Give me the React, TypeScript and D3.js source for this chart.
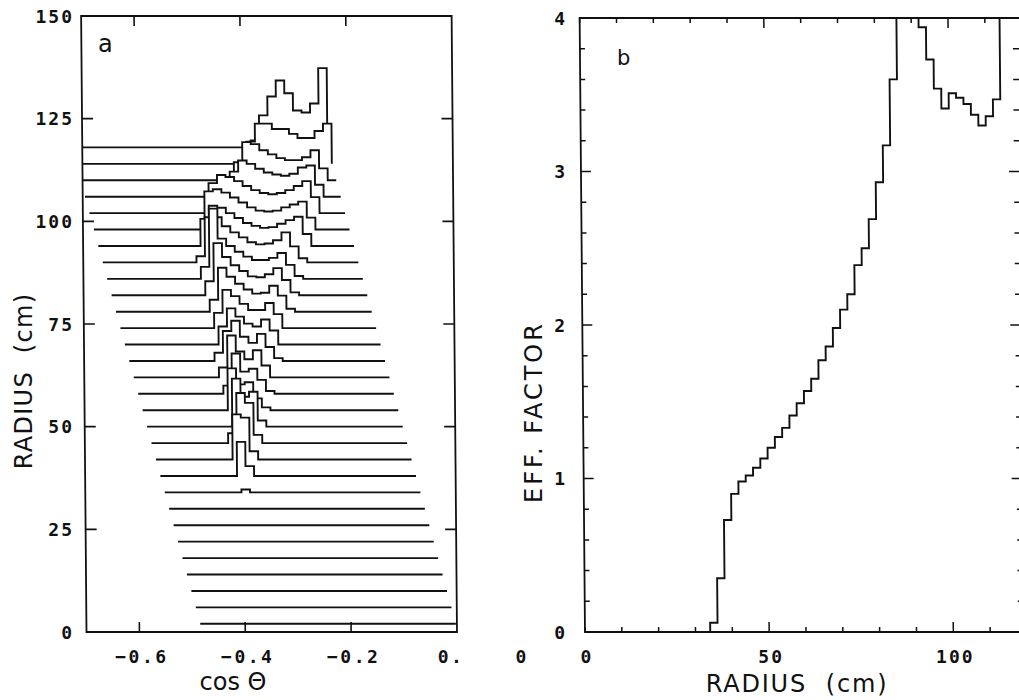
import React from "react";
import * as d3 from "d3";

// ---------- Panel a : cos(theta) distributions stacked by radius ----------
const radii = [2, 6, 10, 14, 18, 22, 26, 30, 34, 38, 42, 46, 50, 54, 58, 62, 66, 70, 74, 78, 82, 86, 90, 94, 98, 102, 106, 110, 114, 118];
const firstBin = [0, 0, 0, 0, 0, 0, 0, 0, 9, 9, 9, 9, 10, 10, 10, 10, 10, 11, 11, 11, 11, 11, 11, 12, 13, 14, 17, 18, 20, 21];
const binCounts: number[][] = [
  [], [], [], [], [], [], [], [],
  [0.7],
  [8.3, 2.4],
  [11.0, 10.2, 2.0],
  [2.4, 12.2, 9.8, 2.0],
  [11.7, 7.3, 8.5, 1.5],
  [10.2, 6.3, 6.8, 2.9, 0.7],
  [2.0, 9.8, 5.4, 6.1, 3.4, 0.7],
  [2.4, 10.2, 6.3, 4.4, 6.6, 2.9],
  [2.0, 7.3, 9.8, 5.9, 4.4, 6.6, 3.4, 0.7],
  [4.4, 8.8, 6.8, 5.1, 4.4, 6.1, 3.4],
  [3.7, 9.3, 7.8, 5.9, 4.4, 4.4, 6.1, 3.4],
  [2.9, 10.7, 8.5, 6.8, 5.4, 4.4, 4.6, 6.3, 3.9, 0.7],
  [3.4, 12.7, 9.3, 7.3, 5.9, 4.6, 4.4, 5.1, 6.6, 3.7, 0.7],
  [2.9, 17.1, 9.8, 8.0, 6.6, 5.4, 4.6, 4.6, 5.1, 6.3, 3.4, 0.7],
  [1.5, 11.0, 11.0, 8.8, 7.3, 6.1, 4.9, 4.4, 4.6, 5.4, 7.3, 3.9, 1.0],
  [6.6, 9.8, 9.3, 8.0, 6.8, 5.6, 4.9, 4.4, 4.6, 5.4, 6.3, 7.1, 2.9],
  [9.3, 9.8, 9.0, 7.8, 6.6, 5.4, 4.6, 4.4, 4.6, 5.4, 6.1, 6.8, 2.9],
  [7.3, 9.3, 8.8, 7.8, 6.6, 5.6, 4.9, 4.6, 4.9, 5.6, 6.6, 7.8, 3.9],
  [6.1, 8.8, 8.0, 6.8, 5.9, 5.4, 5.1, 5.6, 7.1, 7.6, 2.9],
  [4.4, 9.3, 8.8, 7.3, 6.3, 5.4, 4.9, 4.9, 5.6, 7.3, 2.9],
  [5.4, 9.8, 9.8, 8.5, 8.5, 7.3, 6.3, 6.3, 8.0, 9.8],
  [1.7, 7.8, 12.4, 16.3, 13.2, 9.0, 8.5, 10.7, 19.3],
];
const cosStart = -0.485;
const binWidth = 0.0161;
const binsPerTrace = 30;
const depthShift = 0.0081;
const aYTicks = [0, 25, 50, 75, 100, 125, 150];
const aXTicks = [-0.6, -0.4, -0.2];
const aXTickLabels = ["\u22120.6", "\u22120.4", "\u22120.2"];

// ---------- Panel b : efficiency factor vs radius (2 cm bins) ----------
const effBinWidth = 2;
const effFactor = [
  0, 0, 0, 0, 0, 0, 0, 0, 0, 0, 0, 0, 0, 0, 0, 0, 0,
  0.06, 0.35, 0.73, 0.90, 0.98, 1.02, 1.07, 1.13, 1.20, 1.27, 1.33, 1.41, 1.49,
  1.57, 1.65, 1.77, 1.86, 1.98, 2.10, 2.20, 2.39, 2.50, 2.69, 2.93, 3.17, 3.60,
  4.5, 4.8, 4.4,
  3.94, 3.73, 3.54, 3.41, 3.51, 3.48, 3.44, 3.37, 3.30, 3.36, 3.47,
  4.6, 5.0, 5.0,
];
const bYTicks = [0, 1, 2, 3, 4];
const bXLabels = [0, 50, 100];

const numFont = "'DejaVu Sans Mono', monospace";
const txtFont = "'DejaVu Sans', sans-serif";

export default function App() {
  // panel a geometry
  const aL = 86.5, aR = 457, aT = 16, aB = 632;
  const xA = d3.scaleLinear().domain([-0.7, 0]).range([aL, aR]);
  const yA = d3.scaleLinear().domain([0, 150]).range([aB, aT]);
  // panel b geometry
  const bL = 585, bR = 1027, bT = 18, bB = 632;
  const xB = d3.scaleLinear().domain([0, 120]).range([bL, bR]);
  const yB = d3.scaleLinear().domain([0, 4]).range([bB, bT]);

  const skew = `translate(0,${aB}) skewX(0.5) translate(0,${-aB})`;

  const lineA = d3
    .line<[number, number]>()
    .x((d) => xA(d[0]))
    .y((d) => yA(d[1]))
    .curve(d3.curveStepAfter);

  const traces = radii.map((r, i) => {
    const x0 = cosStart - i * depthShift;
    const counts = new Array(binsPerTrace).fill(0);
    binCounts[i].forEach((v, j) => {
      counts[firstBin[i] + j] = v;
    });
    const pts: [number, number][] = counts.map((v, k) => [x0 + k * binWidth, r + v]);
    pts.push([x0 + binsPerTrace * binWidth, r]);
    return lineA(pts) as string;
  });

  const lineB = d3
    .line<[number, number]>()
    .x((d) => xB(d[0]))
    .y((d) => yB(d[1]))
    .curve(d3.curveStepAfter);
  const effPts: [number, number][] = effFactor.map((v, k) => [k * effBinWidth, v]);
  effPts.push([effFactor.length * effBinWidth, effFactor[effFactor.length - 1]]);
  const effPath = lineB(effPts) as string;

  const bMinorY = yB.ticks(20);
  const bMinorX = d3.range(0, 121, 10);

  const stroke = "#111";

  return (
    <svg
      width={1019}
      height={700}
      style={{ position: "absolute", left: 0, top: 0, display: "block", background: "#fff" }}
    >
      <defs>
        <clipPath id="clipA">
          <rect x={aL} y={aT} width={aR - aL} height={aB - aT} />
        </clipPath>
        <clipPath id="clipB">
          <rect x={bL} y={bT} width={bR - bL} height={bB - bT} />
        </clipPath>
      </defs>

      {/* ===== Panel a ===== */}
      <g transform={skew}>
        <g clipPath="url(#clipA)">
          {traces
            .map((d, i) => ({ d, i }))
            .reverse()
            .map(({ d, i }) => (
              <g key={i}>
                <path d={d + "Z"} fill="#fff" stroke="none" />
                <path d={d} fill="none" stroke={stroke} strokeWidth={1.9} />
              </g>
            ))}
        </g>
        <rect x={aL} y={aT} width={aR - aL} height={aB - aT} fill="none" stroke={stroke} strokeWidth={1.8} />
        {aYTicks.map((t) => (
          <g key={"ay" + t}>
            <line x1={aL} x2={aL + 11} y1={yA(t)} y2={yA(t)} stroke={stroke} strokeWidth={1.6} />
            <line x1={aR} x2={aR - 11} y1={yA(t)} y2={yA(t)} stroke={stroke} strokeWidth={1.6} />
          </g>
        ))}
        {aXTicks.map((t) => (
          <g key={"ax" + t}>
            <line x1={xA(t)} x2={xA(t)} y1={aB} y2={aB - 10} stroke={stroke} strokeWidth={1.6} />
            <line x1={xA(t)} x2={xA(t)} y1={aT} y2={aT + 10} stroke={stroke} strokeWidth={1.6} />
          </g>
        ))}
      </g>
      {aYTicks.map((t) => (
        <text
          key={"ayl" + t}
          x={74}
          y={yA(t) + 6.5}
          textAnchor="end"
          fontFamily={numFont}
          fontWeight="bold"
          fontSize={18}
          letterSpacing={2}
          fill={stroke}
        >
          {t}
        </text>
      ))}
      {aXTicks.map((t, i) => (
        <text
          key={"axl" + t}
          x={xA(t) + 2.5}
          y={663}
          textAnchor="middle"
          fontFamily={numFont}
          fontWeight="bold"
          fontSize={18}
          letterSpacing={2.5}
          fill={stroke}
        >
          {aXTickLabels[i]}
        </text>
      ))}
      <text x={xA(0) - 6} y={663} textAnchor="middle" fontFamily={numFont} fontWeight="bold" fontSize={18} letterSpacing={2.5} fill={stroke}>
        0.
      </text>
      <text x={233} y={690} textAnchor="middle" fontFamily={txtFont} fontSize={24} fill={stroke}>
        cos Θ
      </text>
      <text
        transform="translate(32,381) rotate(-90)"
        textAnchor="middle"
        fontFamily={txtFont}
        fontSize={24}
        letterSpacing={1.3}
        fill={stroke}
        style={{ whiteSpace: "pre" }}
      >
        {"RADIUS  (cm)"}
      </text>
      <text x={98} y={52} fontFamily={txtFont} fontSize={24} fill={stroke}>
        a
      </text>

      {/* stray zero between the panels */}
      <text x={521} y={663} textAnchor="middle" fontFamily={numFont} fontWeight="bold" fontSize={18} fill={stroke}>
        0
      </text>

      {/* ===== Panel b ===== */}
      <g transform={skew}>
        <g clipPath="url(#clipB)">
          <path d={effPath} fill="none" stroke={stroke} strokeWidth={1.9} />
        </g>
        <rect x={bL} y={bT} width={bR - bL} height={bB - bT} fill="none" stroke={stroke} strokeWidth={1.8} />
        {bMinorY.map((t) => {
          const major = Math.abs(t - Math.round(t)) < 1e-6;
          const len = major ? 10 : 5;
          return (
            <g key={"by" + t}>
              <line x1={bL} x2={bL + len} y1={yB(t)} y2={yB(t)} stroke={stroke} strokeWidth={1.5} />
              <line x1={bR} x2={bR - len - 4} y1={yB(t)} y2={yB(t)} stroke={stroke} strokeWidth={1.5} />
            </g>
          );
        })}
        {bMinorX.map((t) => {
          const major = t === 50 || t === 100;
          const len = major ? 10 : 5;
          return (
            <g key={"bx" + t}>
              <line x1={xB(t)} x2={xB(t)} y1={bB} y2={bB - len} stroke={stroke} strokeWidth={1.5} />
              <line x1={xB(t)} x2={xB(t)} y1={bT} y2={bT + len} stroke={stroke} strokeWidth={1.5} />
            </g>
          );
        })}
      </g>
      {bYTicks.map((t) => (
        <text
          key={"byl" + t}
          x={565}
          y={yB(t) + 6.5}
          textAnchor="end"
          fontFamily={numFont}
          fontWeight="bold"
          fontSize={18}
          fill={stroke}
        >
          {t}
        </text>
      ))}
      {bXLabels.map((t) => (
        <text
          key={"bxl" + t}
          x={xB(t) + 2}
          y={663}
          textAnchor="middle"
          fontFamily={numFont}
          fontWeight="bold"
          fontSize={18}
          letterSpacing={2}
          fill={stroke}
        >
          {t}
        </text>
      ))}
      <text
        x={797}
        y={692}
        textAnchor="middle"
        fontFamily={txtFont}
        fontSize={24}
        letterSpacing={1.8}
        fill={stroke}
        style={{ whiteSpace: "pre" }}
      >
        {"RADIUS  (cm)"}
      </text>
      <text
        transform="translate(542,412) rotate(-90)"
        textAnchor="middle"
        fontFamily={txtFont}
        fontSize={24}
        letterSpacing={3}
        fill={stroke}
      >
        EFF. FACTOR
      </text>
      <text x={617} y={65} fontFamily={txtFont} fontSize={21} fill={stroke}>
        b
      </text>
    </svg>
  );
}
